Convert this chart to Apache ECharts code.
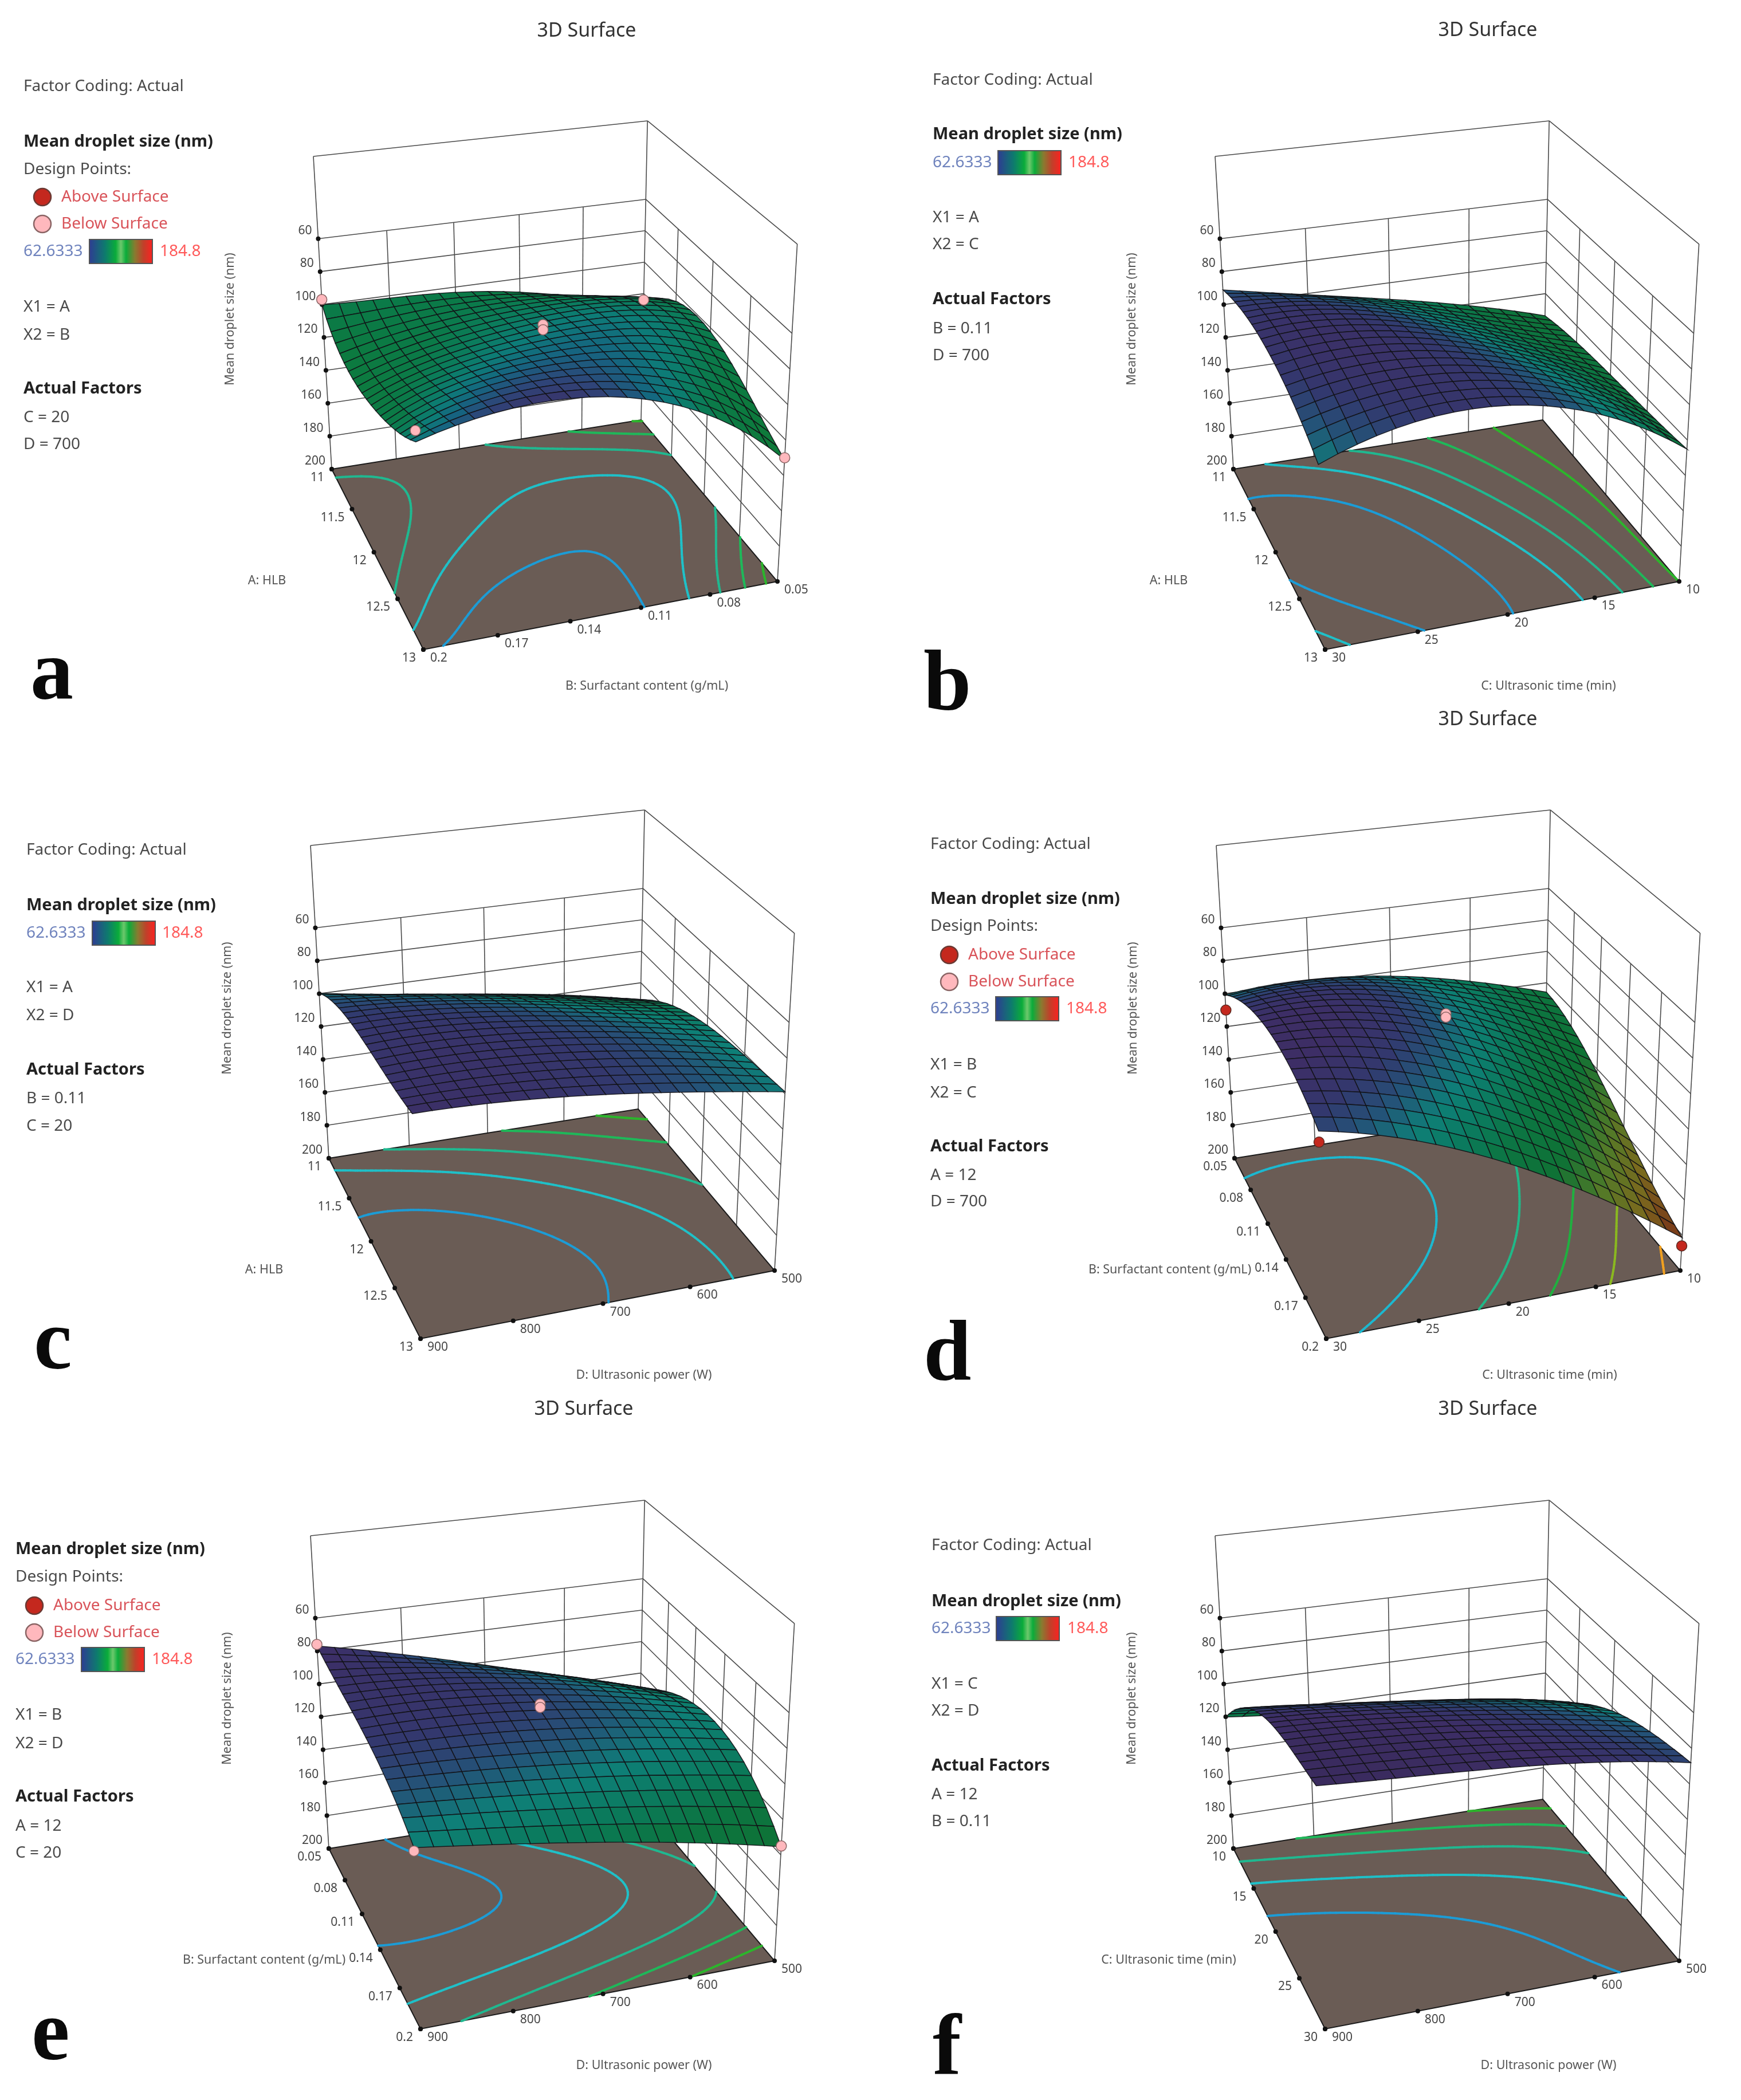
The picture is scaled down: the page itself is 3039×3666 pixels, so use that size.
<!DOCTYPE html>
<html><head><meta charset="utf-8"><title>3D Surface</title>
<style>html,body{margin:0;padding:0;background:#fff}#c{width:3039px;height:3666px}</style>
<script src="https://cdn.jsdelivr.net/npm/echarts@6/dist/echarts.min.js"></script>
</head><body><div id="c"></div>
<script>
// ---------- values ----------
const zTicks = [60,80,100,120,140,160,180,200];
const hlbTicks = [11,11.5,12,12.5,13];
const surfTicks = [0.05,0.08,0.11,0.14,0.17,0.2];
const surfTicksRev = [0.2,0.17,0.14,0.11,0.08,0.05];
const timeTicksDown = [10,15,20,25,30];
const timeTicksRev = [30,25,20,15,10];
const powerTicksRev = [900,800,700,600,500];

const hlbGrid = [11,11.5,12,12.5,13];
const surfGrid = [0.05,0.0875,0.125,0.1625,0.2];
const surfGridRev = [0.2,0.1625,0.125,0.0875,0.05];
const timeGrid = [10,15,20,25,30];
const timeGridRev = [30,25,20,15,10];
const powerGridRev = [900,800,700,600,500];

const zA = [[100,102,105,115,126],[114,102,97,97,105],[112,96,90,89,102],[104,86,84,90,115],[88,78,80,96,131]];
const zB = [[91,101,110,121,134],[84,86,99,115,130],[82,82,89,108,128],[88,81,85,102,127],[100,86,84,98,125]];
const zC = [[100,107,114,121,131],[87,91,97,106,114],[84,84,87,97,105],[81,81,84,91,101],[79,80,85,91,99]];
const zD = [[101,97,103,111,126],[85,85,97,113,134],[78,79,88,115,148],[78,88,108,134,168],[88,102,121,150,181]];
const zE = [[77,88,103,115,130],[81,83,89,100,114],[83,84,88,94,102],[90,92,96,103,112],[102,109,116,125,135]];
const zF = [[120,125,130,136,143],[94,98,104,109,119],[77,80,86,92,102],[72,74,78,85,93],[69,72,75,80,88]];

const levelsA = [85,95,105,115,125];
const levelsB = [85,95,105,115,125];
const levelsC = [85,95,105,115,125];
const levelsD = [92,115,135,155,175];
const levelsE = [85,95,105,115,125];
const levelsF = [82,96,110,124,136];

// design points: [left-axis value, front-axis value, size]
const belowA = [[11,0.2,97],[11,0.05,124],[12,0.125,84],[12,0.125,87],[13,0.2,82],[13,0.05,130]];
const aboveA = [];
const belowD = [[0.125,20,84],[0.125,20,86]];
const aboveD = [[0.05,30,110],[0.2,30,94],[0.2,10,186]];
const belowE = [[0.05,900,76],[0.2,900,104],[0.2,500,135],[0.125,700,84],[0.125,700,86]];

// ---------- styles and layout ----------
const SANS = '"Noto Sans","Open Sans",sans-serif';
const rampDefault = [[70,'#3a2b5e'],[78,'#3d2e66'],[85,'#33386e'],[92,'#235478'],[100,'#0e7f78'],[110,'#0b7a5c'],[120,'#0c7542'],[135,'#0f7235'],[150,'#527a28'],[165,'#7a6a1e'],[181,'#7a3018']];
const rampA = [[76,'#3d2e66'],[80,'#2f4478'],[85,'#166480'],[90,'#0d7c78'],[96,'#0b7c5c'],[102,'#0b7a48'],[112,'#0c7a40'],[135,'#107a35']];
const contourColors = ['#1c9cd6','#1fc0c8','#20b890','#1fb85a','#2cb52c'];
const contourColorsD = ['#1cb8d0','#20b888','#20b040','#8ab820','#f0a020'];

const base = {L:[579,819],F:[739,1134],R:[1357,1015],B:[1119,733],VP:[973,7544],topY:273,gx:360,gy:180,gw:1100,gh:1060};
function makeProj(){
  const [x0,y0]=base.L,[x1,y1]=base.F,[x2,y2]=base.R,[x3,y3]=base.B;
  const dx1=x1-x2,dx2=x3-x2,sx=x0-x1+x2-x3,dy1=y1-y2,dy2=y3-y2,sy=y0-y1+y2-y3;
  const den=dx1*dy2-dx2*dy1;
  const g=(sx*dy2-dx2*sy)/den,h=(dx1*sy-sx*dy1)/den;
  const a=x1-x0+g*x1,b=x3-x0+h*x3,c=x0,d=y1-y0+g*y1,e=y3-y0+h*y3,f=y0;
  const s=(base.topY-y0)/(base.VP[1]-base.topY);
  const H=y0-base.topY;
  return function(u,v,z){
    const k=(200-z)/190;
    // z ticks are evenly spaced on the left upright, so height is mapped to keep them even
    const t=H*k/((-s*base.VP[1]) - (-s)*(y0-H*k));
    const W=g*u+h*v+1+t*s;
    return {x:(a*u+b*v+c+t*s*base.VP[0])/W,y:(d*u+e*v+f+t*s*base.VP[1])/W,w:W};
  };
}
const proj = makeProj();

function hex(c){return [parseInt(c.slice(1,3),16),parseInt(c.slice(3,5),16),parseInt(c.slice(5,7),16)];}
function rampColor(r,z){
  if(z<=r[0][0])return r[0][1];
  for(let i=1;i<r.length;i++){ if(z<=r[i][0]){
    const t=(z-r[i-1][0])/(r[i][0]-r[i-1][0]),p=hex(r[i-1][1]),q=hex(r[i][1]);
    return 'rgb('+p.map((v,k)=>Math.round(v+(q[k]-v)*t)).join(',')+')';
  }}
  return r[r.length-1][1];
}
// smooth drawing through the read table
const Q4=[1,-4,6,-4,1];
function ease(p,keep){const c=(p[0]-4*p[1]+6*p[2]-4*p[3]+p[4])/70;return p.map((v,i)=>v-(1-keep)*c*Q4[i]);}
function easeTable(t,keep){
  const r=t.map(x=>ease(x,keep));
  const out=r.map(x=>x.slice());
  for(let j=0;j<5;j++){const col=ease(r.map(x=>x[j]),keep);col.forEach((v,i)=>out[i][j]=v);}
  return out;
}
function lag(p,f){const x=f*4;let s=0;for(let i=0;i<5;i++){let L=1;for(let j=0;j<5;j++)if(j!==i)L*=(x-j)/(i-j);s+=p[i]*L;}return s;}
function surfaceAt(tb,u,v){return lag(tb.map(r=>lag(r,v)),u);}

const panels = [
 {key:'a',dx:0,dy:0,table:easeTable(zA,0.6),rows:hlbGrid,cols:surfGridRev,left:hlbTicks,front:surfTicksRev,levels:levelsA,cc:contourColors,ramp:rampA,below:belowA,above:aboveA,
  leftName:'A: HLB',frontName:'B: Surfactant content (g/mL)'},
 {key:'b',dx:1574,dy:0,table:easeTable(zB,0),rows:hlbGrid,cols:timeGridRev,left:hlbTicks,front:timeTicksRev,levels:levelsB,cc:contourColors,ramp:rampDefault,below:[],above:[],
  leftName:'A: HLB',frontName:'C: Ultrasonic time (min)'},
 {key:'c',dx:-5,dy:1203,table:easeTable(zC,0),rows:hlbGrid,cols:powerGridRev,left:hlbTicks,front:powerTicksRev,levels:levelsC,cc:contourColors,ramp:rampDefault,below:[],above:[],
  leftName:'A: HLB',frontName:'D: Ultrasonic power (W)'},
 {key:'d',dx:1576,dy:1203,table:easeTable(zD,0),rows:surfGrid,cols:timeGridRev,left:surfTicks,front:timeTicksRev,levels:levelsD,cc:contourColorsD,ramp:rampDefault,below:belowD,above:aboveD,
  leftName:'B: Surfactant content (g/mL)',frontName:'C: Ultrasonic time (min)'},
 {key:'e',dx:-5,dy:2408,table:easeTable(zE,0),rows:surfGrid,cols:powerGridRev,left:surfTicks,front:powerTicksRev,levels:levelsE,cc:contourColors,ramp:rampDefault,below:belowE,above:[],
  leftName:'B: Surfactant content (g/mL)',frontName:'D: Ultrasonic power (W)'},
 {key:'f',dx:1574,dy:2408,table:easeTable(zF,0.3),rows:timeGrid,cols:powerGridRev,left:timeTicksDown,front:powerTicksRev,levels:levelsF,cc:contourColors,ramp:rampDefault,below:[],above:[],
  leftName:'C: Ultrasonic time (min)',frontName:'D: Ultrasonic power (W)'}
];

const MESH = 20, FINE = 70;
const grid=[],xAxis=[],yAxis=[],series=[];
function frac(list,val){const a=list[0],b=list[list.length-1];return (val-a)/(b-a);}

panels.forEach((P,pi)=>{
  grid.push({left:P.dx+base.gx,top:P.dy+base.gy,width:base.gw,height:base.gh,show:false});
  xAxis.push({type:'value',gridIndex:pi,min:base.gx,max:base.gx+base.gw,show:false});
  yAxis.push({type:'value',gridIndex:pi,min:base.gy,max:base.gy+base.gh,inverse:true,show:false});
  const common={type:'custom',coordinateSystem:'cartesian2d',xAxisIndex:pi,yAxisIndex:pi,silent:true,animation:false,clip:false};
  const C=(api,p)=>api.coord([p.x,p.y]);
  const seg=(api,a,b,st)=>{const A=C(api,a),B=C(api,b);return {type:'line',shape:{x1:A[0],y1:A[1],x2:B[0],y2:B[1]},style:st};};

  series.push(Object.assign({},common,{name:P.key+' frame',z:1,data:[[0]],renderItem:(ctx,api)=>{
    const ch=[];
    const wall={stroke:'#4a4a4a',lineWidth:1.6,fill:null};
    zTicks.forEach(z=>{ if(z===200)return;
      ch.push(seg(api,proj(0,0,z),proj(0,1,z),wall));
      ch.push(seg(api,proj(0,1,z),proj(1,1,z),wall));
    });
    ch.push(seg(api,proj(0,0,10),proj(0,1,10),wall));
    ch.push(seg(api,proj(0,1,10),proj(1,1,10),wall));
    ch.push(seg(api,proj(0,0,200),proj(0,0,10),wall));
    ch.push(seg(api,proj(0,1,200),proj(0,1,10),wall));
    ch.push(seg(api,proj(1,1,200),proj(1,1,10),wall));
    P.front.forEach(t=>{const v=frac(P.front,t); if(v>0&&v<1) ch.push(seg(api,proj(0,v,200),proj(0,v,60),wall));});
    P.left.forEach(t=>{const u=frac(P.left,t); if(u>0&&u<1) ch.push(seg(api,proj(u,1,200),proj(u,1,60),wall));});
    const corners=[proj(0,0,200),proj(1,0,200),proj(1,1,200),proj(0,1,200)].map(p=>C(api,p));
    ch.push({type:'polygon',shape:{points:corners},style:{fill:'#6a5c55',stroke:'#1a1a1a',lineWidth:2}});
    return {type:'group',children:ch};
  }}));

  const F=[];for(let i=0;i<=FINE;i++){const r=[];for(let j=0;j<=FINE;j++)r.push(surfaceAt(P.table,i/FINE,j/FINE));F.push(r);}
  const segs=[];
  P.levels.forEach((lv,li)=>{
    for(let i=0;i<FINE;i++)for(let j=0;j<FINE;j++){
      const q=[[i,j,F[i][j]],[i+1,j,F[i+1][j]],[i+1,j+1,F[i+1][j+1]],[i,j+1,F[i][j+1]]],cut=[];
      for(let k=0;k<4;k++){const a=q[k],b=q[(k+1)%4];
        if((a[2]<lv)!==(b[2]<lv)){const t=(lv-a[2])/(b[2]-a[2]);cut.push([(a[0]+(b[0]-a[0])*t)/FINE,(a[1]+(b[1]-a[1])*t)/FINE]);}}
      if(cut.length>=2)segs.push([cut[0][0],cut[0][1],cut[1][0],cut[1][1],li]);
      if(cut.length===4)segs.push([cut[2][0],cut[2][1],cut[3][0],cut[3][1],li]);
    }
  });
  series.push(Object.assign({},common,{name:P.key+' contours',z:2,data:segs,renderItem:(ctx,api)=>{
    const A=C(api,proj(api.value(0),api.value(1),200)),B=C(api,proj(api.value(2),api.value(3),200));
    return {type:'line',shape:{x1:A[0],y1:A[1],x2:B[0],y2:B[1]},style:{stroke:P.cc[api.value(4)],lineWidth:4,lineCap:'round'}};
  }}));

  const cells=[];
  for(let i=0;i<MESH;i++)for(let j=0;j<MESH;j++){
    const u0=i/MESH,u1=(i+1)/MESH,v0=j/MESH,v1=(j+1)/MESH;
    const z00=surfaceAt(P.table,u0,v0),z10=surfaceAt(P.table,u1,v0),z11=surfaceAt(P.table,u1,v1),z01=surfaceAt(P.table,u0,v1);
    const mid=(z00+z10+z11+z01)/4;
    cells.push([u0,u1,v0,v1,z00,z10,z11,z01,proj((u0+u1)/2,(v0+v1)/2,mid).w]);
  }
  cells.sort((a,b)=>b[8]-a[8]);
  series.push(Object.assign({},common,{name:P.key+' surface',z:3,data:cells,renderItem:(ctx,api)=>{
    const u0=api.value(0),u1=api.value(1),v0=api.value(2),v1=api.value(3);
    const z=[api.value(4),api.value(5),api.value(6),api.value(7)];
    const pts=[proj(u0,v0,z[0]),proj(u1,v0,z[1]),proj(u1,v1,z[2]),proj(u0,v1,z[3])].map(p=>C(api,p));
    return {type:'polygon',shape:{points:pts},style:{fill:rampColor(P.ramp,(z[0]+z[1]+z[2]+z[3])/4),stroke:'rgba(18,18,22,0.9)',lineWidth:1.5}};
  }}));

  const tickRows=[];
  zTicks.forEach(z=>tickRows.push([0,0,z,String(z),0]));
  P.left.forEach(t=>tickRows.push([frac(P.left,t),0,200,String(t),1]));
  P.front.forEach(t=>tickRows.push([1,frac(P.front,t),200,String(t),2]));
  series.push(Object.assign({},common,{name:P.key+' ticks',z:4,data:tickRows,renderItem:(ctx,api)=>{
    const c=C(api,proj(api.value(0),api.value(1),api.value(2))),k=api.value(4),txt=tickRows[ctx.dataIndex][3];
    const off=k===0?[-11,-14,'right']:k===1?[-13,15,'right']:[12,15,'left'];
    return {type:'group',children:[
      {type:'circle',shape:{cx:c[0],cy:c[1],r:4},style:{fill:'#111'}},
      {type:'text',style:{text:txt,x:c[0]+off[0],y:c[1]+off[1],align:off[2],verticalAlign:'middle',font:'21px '+SANS,fill:'#444'}}
    ]};
  }}));

  const pts=P.below.map(p=>[frac(P.rows,p[0]),frac(P.cols,p[1]),p[2],0]).concat(P.above.map(p=>[frac(P.rows,p[0]),frac(P.cols,p[1]),p[2],1]));
  if(pts.length) series.push(Object.assign({},common,{name:P.key+' points',z:5,data:pts,renderItem:(ctx,api)=>{
    const c=C(api,proj(api.value(0),api.value(1),api.value(2))),up=api.value(3)===1;
    return {type:'circle',shape:{cx:c[0],cy:c[1],r:9},style:{fill:up?'#c4281e':'#ffb8bd',stroke:up?'#5c2a22':'#8a6464',lineWidth:1.5}};
  }}));
});

const graphic=[];
function T(text,x,y,o){o=o||{};
  graphic.push({type:'text',x:x,y:y,rotation:o.rot||0,z:20,silent:true,style:{text:text,x:0,y:0,align:o.align||'left',verticalAlign:o.va||'middle',
    font:(o.weight?o.weight+' ':'')+(o.size||29)+'px '+(o.family||SANS),fill:o.fill||'#4a4a4a'}});
}
function bar(x,y,w,h){
  graphic.push({type:'rect',z:20,silent:true,shape:{x:x,y:y,width:w,height:h},style:{stroke:'#555',lineWidth:2,
    fill:new echarts.graphic.LinearGradient(0,0,1,0,[{offset:0,color:'#2f3a94'},{offset:.25,color:'#0e7a6e'},{offset:.42,color:'#0aac3a'},{offset:.5,color:'#6cc86c'},{offset:.58,color:'#0aac3a'},{offset:.72,color:'#8a7a30'},{offset:.85,color:'#c0402a'},{offset:1,color:'#ff2020'}])}});
}
function dot(x,y,fill,stroke){graphic.push({type:'circle',z:20,silent:true,shape:{cx:x,cy:y,r:15},style:{fill:fill,stroke:stroke,lineWidth:2.5}});}
const RED='#d9545a',BLUE='#6f83bd',RED2='#ff5a5a',BOLD='#222';
const titles=[[1024,54],[2597,53],[2597,1256],[1019,2460],[2597,2460]];
titles.forEach(t=>T('3D Surface',t[0],t[1],{align:'center',size:34,fill:'#333'}));

const legends=[
 {x:41,factor:151,mean:248,design:296,above:344,below:391,bar:439,barX:156,maxX:279,lines:[['X1 = A',536],['X2 = B',585],['Actual Factors',679,1],['C = 20',729],['D = 700',776]]},
 {x:1628,factor:140,mean:235,bar:284,barX:1742,maxX:1865,lines:[['X1 = A',380],['X2 = C',427],['Actual Factors',523,1],['B = 0.11',574],['D = 700',621]]},
 {x:46,factor:1484,mean:1581,bar:1629,barX:161,maxX:283,lines:[['X1 = A',1724],['X2 = D',1773],['Actual Factors',1868,1],['B = 0.11',1918],['C = 20',1966]]},
 {x:1624,factor:1474,mean:1570,design:1617,above:1667,below:1714,bar:1761,barX:1738,maxX:1861,lines:[['X1 = B',1859],['X2 = C',1908],['Actual Factors',2002,1],['A = 12',2052],['D = 700',2098]]},
 {x:27,mean:2705,design:2753,above:2803,below:2850,bar:2897,barX:142,maxX:265,lines:[['X1 = B',2994],['X2 = D',3044],['Actual Factors',3137,1],['A = 12',3188],['C = 20',3235]]},
 {x:1626,factor:2698,mean:2796,bar:2843,barX:1739,maxX:1863,lines:[['X1 = C',2940],['X2 = D',2987],['Actual Factors',3083,1],['A = 12',3133],['B = 0.11',3180]]}
];
legends.forEach(L=>{
  if(L.factor)T('Factor Coding: Actual',L.x,L.factor,{size:28});
  T('Mean droplet size (nm)',L.x,L.mean,{size:29,weight:'bold',fill:BOLD});
  if(L.design){
    T('Design Points:',L.x,L.design,{size:28});
    dot(L.x+33,L.above,'#c4281e','#6a3a34');T('Above Surface',L.x+66,L.above,{size:28,fill:RED});
    dot(L.x+33,L.below,'#ffb8bd','#8a6464');T('Below Surface',L.x+66,L.below,{size:28,fill:RED});
  }
  T('62.6333',L.x,L.bar,{size:28,fill:BLUE});
  bar(L.barX,L.bar-21,110,42);
  T('184.8',L.maxX,L.bar,{size:28,fill:RED2});
  L.lines.forEach(l=>T(l[0],L.x,l[1],l[2]?{size:29,weight:'bold',fill:BOLD}:{size:28}));
});
panels.forEach(P=>{
  T(P.leftName,P.dx+466,P.dy+1014,{align:'center',size:21.5,fill:'#555'});
  T(P.frontName,P.dx+1129,P.dy+1198,{align:'center',size:21.5,fill:'#555'});
  T('Mean droplet size (nm)',P.dx+402,P.dy+557,{align:'center',size:21.5,fill:'#555',rot:Math.PI/2});
});
const letters=[['a',53,1180],['b',1612,1200],['c',59,2350],['d',1612,2370],['e',55,3556],['f',1628,3582]];
letters.forEach(l=>T(l[0],l[1],l[2],{size:150,weight:'bold',family:'"Liberation Serif",serif',fill:'#0a0a0a'}));

const chart=echarts.init(document.getElementById('c'),null,{renderer:'canvas'});
chart.setOption({animation:false,backgroundColor:'#fff',grid:grid,xAxis:xAxis,yAxis:yAxis,series:series,graphic:graphic});
</script></body></html>
